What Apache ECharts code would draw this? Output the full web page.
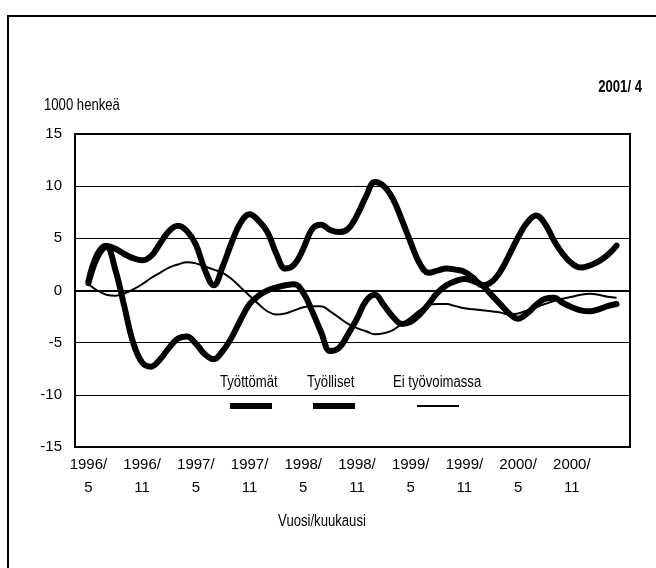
<!DOCTYPE html>
<html>
<head>
<meta charset="utf-8">
<script src="https://cdn.jsdelivr.net/npm/echarts@6/dist/echarts.min.js"></script>
<style>
  html, body { margin: 0; padding: 0; background: #fff; }
  #chart { width: 656px; height: 568px; }
</style>
</head>
<body>
<div id="chart"></div>
<script>
// months 1996/4 .. 2001/5, first and last band stay empty
const startYear = 1996;
const startMonth = 4;
const monthCount = 62;

const categories = [];
for (let i = 0; i < monthCount; i++) {
  const m = startMonth - 1 + i;
  categories.push((startYear + Math.floor(m / 12)) + "/" + ((m % 12) + 1));
}

const yTicks = [-15, -10, -5, 0, 5, 10, 15];

// 1996/5 .. 2001/4, 1000 henkeä
const tyottomat = [
  0.7, 3.2, 4.2, 2.0, -1.5, -5.0, -6.9, -7.3, -6.6, -5.5, -4.6, -4.4,
  -5.1, -6.1, -6.6, -5.8, -4.5, -2.8, -1.3, -0.5, 0.0, 0.3, 0.5, 0.6,
  -0.2, -2.0, -4.0, -5.8, -5.5, -4.2, -2.7, -1.0, -0.4, -1.4, -2.5, -3.2,
  -3.0, -2.3, -1.3, -0.2, 0.5, 0.9, 1.1, 0.9, 0.5, -0.4, -1.3, -2.2,
  -2.7, -2.2, -1.4, -0.8, -0.7, -1.2, -1.6, -1.9, -2.0, -1.8, -1.5, -1.3
];

const tyolliset = [
  0.9, 3.5, 4.3, 4.0, 3.5, 3.1, 2.9, 3.3, 4.5, 5.7, 6.2, 5.7,
  4.4, 2.0, 0.5, 2.3, 4.6, 6.5, 7.3, 6.7, 5.6, 3.5, 2.1, 2.5,
  4.0, 5.9, 6.3, 5.8, 5.6, 5.9, 7.2, 9.0, 10.4, 10.0, 8.8, 6.8,
  4.6, 2.6, 1.7, 1.9, 2.1, 2.0, 1.8, 1.2, 0.5, 0.8, 1.8, 3.4,
  5.1, 6.5, 7.2, 6.4, 4.8, 3.5, 2.6, 2.2, 2.4, 2.8, 3.4, 4.3
];

const eiTyovoimassa = [
  0.6, 0.0, -0.4, -0.5, -0.3, 0.1, 0.6, 1.2, 1.7, 2.2, 2.5, 2.7,
  2.6, 2.3, 2.0, 1.7, 1.1, 0.3, -0.5, -1.3, -2.0, -2.3, -2.2, -1.9,
  -1.6, -1.5, -1.5, -2.0, -2.6, -3.2, -3.6, -3.9, -4.2, -4.1, -3.8, -3.2,
  -2.6, -1.9, -1.4, -1.3, -1.3, -1.5, -1.7, -1.8, -1.9, -2.0, -2.1, -2.3,
  -2.2, -1.9, -1.6, -1.3, -1.0, -0.8, -0.6, -0.4, -0.3, -0.4, -0.6, -0.7
];

const FONT = "'Liberation Sans', Arial, sans-serif";
const NARROW = 0.82; // the original uses a condensed face

function pad(arr) {
  return [null].concat(arr, [null]);
}

// labels every 6 months from 1996/5 to 2000/11
function showLabel(index) {
  return index >= 1 && index <= 55 && (index - 1) % 6 === 0;
}

function label(text, x, y, opts) {
  opts = opts || {};
  return {
    type: "text",
    x: x,
    y: y,
    scaleX: NARROW,
    style: {
      text: text,
      font: (opts.bold ? "bold " : "") + "16px " + FONT,
      fill: "#000",
      align: opts.align || "left",
      verticalAlign: "middle"
    }
  };
}

const chart = echarts.init(document.getElementById("chart"));

const option = {
  backgroundColor: "#fff",
  animation: false,
  grid: {
    left: 75,
    right: 26,
    top: 134,
    bottom: 121,
    show: true,
    borderColor: "#000",
    borderWidth: 2
  },
  xAxis: [
    {
      type: "category",
      data: categories,
      boundaryGap: true,
      axisLine: { lineStyle: { color: "#000", width: 2 } },
      axisTick: {
        inside: true,
        length: 7,
        alignWithLabel: true,
        interval: showLabel,
        lineStyle: { color: "#000", width: 1 }
      },
      axisLabel: {
        interval: showLabel,
        formatter: v => v.replace("/", "/\n"),
        color: "#000",
        fontFamily: FONT,
        fontSize: 15,
        lineHeight: 23,
        margin: 6
      },
      splitLine: { show: false }
    },
    {
      type: "category",
      data: categories,
      position: "bottom",
      boundaryGap: true,
      axisLine: { show: false },
      axisTick: {
        inside: true,
        length: 3,
        alignWithLabel: true,
        interval: 0,
        lineStyle: { color: "#000", width: 1 }
      },
      axisLabel: { show: false },
      splitLine: { show: false }
    }
  ],
  yAxis: {
    type: "value",
    min: yTicks[0],
    max: yTicks[yTicks.length - 1],
    interval: 5,
    axisLine: { show: true, lineStyle: { color: "#000", width: 2 } },
    axisTick: { show: false },
    axisLabel: {
      color: "#000",
      fontFamily: FONT,
      fontSize: 15,
      margin: 13
    },
    splitLine: { lineStyle: { color: "#000", width: 1 } }
  },
  series: [
    {
      name: "Työttömät",
      type: "line",
      data: pad(tyottomat),
      smooth: 0.4,
      symbol: "none",
      lineStyle: { color: "#000", width: 6, join: "round", cap: "round" },
      z: 3
    },
    {
      name: "Työlliset",
      type: "line",
      data: pad(tyolliset),
      smooth: 0.4,
      symbol: "none",
      lineStyle: { color: "#000", width: 6, join: "round", cap: "round" },
      z: 3
    },
    {
      name: "Ei työvoimassa",
      type: "line",
      data: pad(eiTyovoimassa),
      smooth: 0.4,
      symbol: "none",
      lineStyle: { color: "#000", width: 2 },
      z: 3,
      markLine: {
        silent: true,
        symbol: "none",
        label: { show: false },
        lineStyle: { color: "#000", width: 2, type: "solid" },
        data: [{ yAxis: 0 }]
      }
    }
  ],
  graphic: [
    {
      type: "rect",
      shape: { x: 8, y: 16, width: 700, height: 600 },
      style: { fill: null, stroke: "#000", lineWidth: 2 }
    },
    label("1000 henkeä", 44, 106),
    label("2001/ 4", 642, 88, { bold: true, align: "right" }),
    label("Työttömät", 220, 383),
    label("Työlliset", 307, 383),
    label("Ei työvoimassa", 393, 383),
    {
      type: "line",
      shape: { x1: 230, y1: 406, x2: 272, y2: 406 },
      style: { stroke: "#000", lineWidth: 6 }
    },
    {
      type: "line",
      shape: { x1: 313, y1: 406, x2: 355, y2: 406 },
      style: { stroke: "#000", lineWidth: 6 }
    },
    {
      type: "line",
      shape: { x1: 417, y1: 406, x2: 459, y2: 406 },
      style: { stroke: "#000", lineWidth: 2 }
    },
    label("Vuosi/kuukausi", 322, 522, { align: "center" })
  ]
};

chart.setOption(option);
</script>
</body>
</html>
